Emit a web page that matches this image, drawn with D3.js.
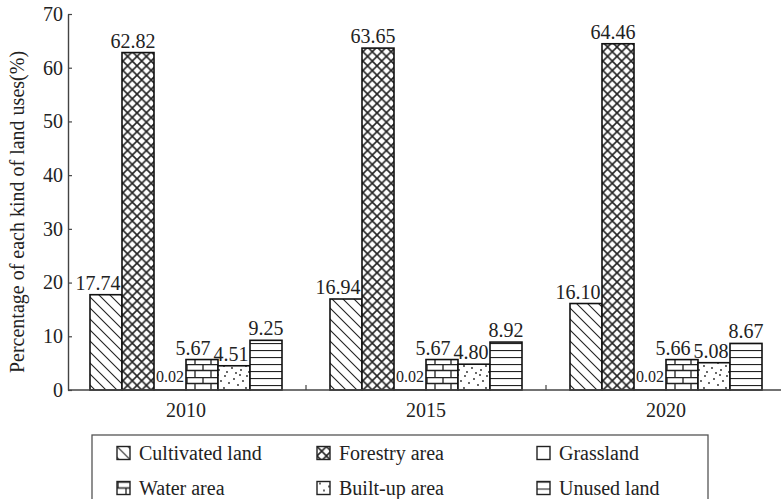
<!DOCTYPE html>
<html>
<head>
<meta charset="utf-8">
<script src="https://cdn.jsdelivr.net/npm/d3@7/dist/d3.min.js"></script>
<style>
  html, body { margin: 0; padding: 0; background: #fff; }
  svg { display: block; }
  text { font-family: "Liberation Serif", "Times New Roman", serif; fill: #222; }
</style>
</head>
<body>
<svg id="chart" width="781" height="499"></svg>
<script>
// ---- data ----
const years = ["2010", "2015", "2020"];
const categories = ["Cultivated land", "Forestry area", "Grassland", "Water area", "Built-up area", "Unused land"];
const cultivated = [17.74, 16.94, 16.10];
const forestry   = [62.82, 63.65, 64.46];
const grassland  = [0.02, 0.02, 0.02];
const water      = [5.67, 5.67, 5.66];
const builtup    = [4.51, 4.80, 5.08];
const unused     = [9.25, 8.92, 8.67];
const yTicks = [0, 10, 20, 30, 40, 50, 60, 70];
const yTitle = "Percentage of each kind of land uses(%)";

const seriesValues = [cultivated, forestry, grassland, water, builtup, unused];

// ---- layout ----
const svg = d3.select("#chart");
svg.append("rect").attr("width", 781).attr("height", 499).attr("fill", "#fff");

const x0 = d3.scaleBand().domain(years).range([66, 786]).paddingInner(0.2).paddingOuter(0.1);
const x1 = d3.scaleBand().domain(categories).range([0, x0.bandwidth()]).padding(0);
const y = d3.scaleLinear().domain([0, 70]).range([390, 14]);
const axisX = 68;

// ---- patterns ----
const defs = svg.append("defs");
const patIds = ["p-cult", "p-forest", "p-grass", "p-water", "p-built", "p-unused"];

function pat(id, w, h) {
  return defs.append("pattern").attr("id", id).attr("patternUnits", "userSpaceOnUse")
    .attr("width", w).attr("height", h);
}
// cultivated: "\" diagonal hatch
{
  const w = 11;
  const p = pat("p-cult", w, w);
  p.append("rect").attr("width", w).attr("height", w).attr("fill", "#fff");
  p.append("path").attr("d", `M0,0L${w},${w}M${-w/2},${w/2}L${w/2},${w*1.5}M${w/2},${-w/2}L${w*1.5},${w/2}`)
    .attr("stroke", "#222").attr("stroke-width", 1.1);
}
// forestry: crosshatch
{
  const w = 9.4;
  const p = pat("p-forest", w, w);
  p.append("rect").attr("width", w).attr("height", w).attr("fill", "#fff");
  p.append("path").attr("d", `M0,0L${w},${w}M${w},0L0,${w}`)
    .attr("stroke", "#222").attr("stroke-width", 1.6);
}
// grassland: blank
{
  const p = pat("p-grass", 10, 10);
  p.append("rect").attr("width", 10).attr("height", 10).attr("fill", "#fff");
}
// water: brick
{
  const w = 16, h = 13;
  const p = pat("p-water", w, h);
  p.append("rect").attr("width", w).attr("height", h).attr("fill", "#fff");
  p.append("path").attr("d", `M0,0.5H${w}M0,${h/2}H${w}M1,0V${h/2}M${w/2+1},${h/2}V${h}`)
    .attr("stroke", "#222").attr("stroke-width", 1.3);
}
// built-up: scattered dots
{
  const w = 22, h = 22;
  const p = pat("p-built", w, h);
  p.append("rect").attr("width", w).attr("height", h).attr("fill", "#fff");
  const dots = [[3,2],[12,5],[18,1],[7,9],[16,11],[2,14],[10,16],[19,18],[5,20],[14,21],[21,7]];
  dots.forEach(([cx, cy]) => p.append("circle").attr("cx", cx).attr("cy", cy).attr("r", 0.9).attr("fill", "#222"));
}
// unused: horizontal lines
{
  const h = 7;
  const p = pat("p-unused", 10, h);
  p.append("rect").attr("width", 10).attr("height", h).attr("fill", "#fff");
  p.append("path").attr("d", `M0,0.5H10`).attr("stroke", "#222").attr("stroke-width", 1.2);
}

// ---- bars ----
const groups = svg.append("g").selectAll("g").data(years).join("g")
  .attr("transform", d => `translate(${x0(d)},0)`);

groups.each(function(year, yi) {
  const g = d3.select(this);
  categories.forEach((cat, ci) => {
    const v = seriesValues[ci][yi];
    g.append("rect")
      .attr("x", x1(cat))
      .attr("y", y(v))
      .attr("width", x1.bandwidth())
      .attr("height", y(0) - y(v))
      .attr("fill", `url(#${patIds[ci]})`)
      .attr("stroke", "#111")
      .attr("stroke-width", 1.6);
  });
});

// ---- value labels ----
const labelShift = [-8, -5, 0, -9, -3, 0];
groups.each(function(year, yi) {
  const g = d3.select(this);
  categories.forEach((cat, ci) => {
    const v = seriesValues[ci][yi];
    const cx = x1(cat) + x1.bandwidth() / 2 + labelShift[ci];
    const small = ci === 2;
    g.append("text")
      .attr("x", cx)
      .attr("y", small ? y(0) - 8 : y(v) - 5)
      .attr("text-anchor", "middle")
      .attr("font-size", small ? 16 : 20)
      .text(v.toFixed(2));
  });
});

// ---- axes ----
const yAxis = d3.axisLeft(y).tickValues(yTicks).tickSizeInner(-4).tickSizeOuter(0).tickPadding(5);
const gy = svg.append("g").attr("transform", `translate(${axisX},0)`).call(yAxis);
gy.select(".domain").attr("stroke", "#444").attr("stroke-width", 1.4);
gy.selectAll(".tick line").attr("stroke", "#444").attr("stroke-width", 1.2);
gy.selectAll(".tick text").attr("font-size", 20).attr("font-family", "Liberation Serif, Times New Roman, serif").attr("fill", "#222");

// x axis line
svg.append("line").attr("x1", axisX).attr("x2", 781).attr("y1", y(0)).attr("y2", y(0))
  .attr("stroke", "#444").attr("stroke-width", 1.4);
// boundary ticks between groups
const boundaries = years.slice(1).map(d => x0(d) - x0.step() * x0.paddingInner() / 2);
svg.append("g").selectAll("line").data(boundaries).join("line")
  .attr("x1", d => d).attr("x2", d => d).attr("y1", y(0)).attr("y2", y(0) - 5)
  .attr("stroke", "#444").attr("stroke-width", 1.2);
// year labels
svg.append("g").selectAll("text").data(years).join("text")
  .attr("x", d => x0(d) + x0.bandwidth() / 2)
  .attr("y", 417)
  .attr("text-anchor", "middle")
  .attr("font-size", 20)
  .text(d => d);

// y title
svg.append("text")
  .attr("transform", `translate(24,${(y(0) + y(70)) / 2 + 10}) rotate(-90)`)
  .attr("text-anchor", "middle")
  .attr("font-size", 20)
  .text(yTitle);

// ---- legend ----
const legend = svg.append("g");
legend.append("rect").attr("x", 92).attr("y", 435).attr("width", 616).attr("height", 90)
  .attr("fill", "none").attr("stroke", "#555").attr("stroke-width", 1.3);
const legCols = [117, 317, 537];
const legRows = [453, 488];
categories.forEach((cat, ci) => {
  const col = ci % 3, row = Math.floor(ci / 3);
  const g = legend.append("g").attr("transform", `translate(${legCols[col]},${legRows[row] - 6.5})`);
  g.append("rect").attr("width", 13).attr("height", 13)
    .attr("fill", `url(#${patIds[ci]})`).attr("stroke", "#222").attr("stroke-width", 1.4);
  legend.append("text")
    .attr("x", legCols[col] + 22)
    .attr("y", legRows[row] + 6.5)
    .attr("font-size", 20)
    .text(cat);
});
</script>
</body>
</html>
